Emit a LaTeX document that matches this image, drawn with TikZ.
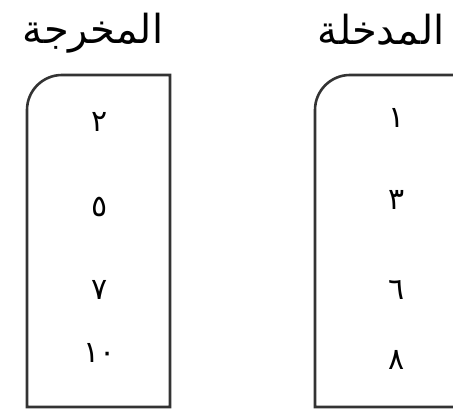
\documentclass[tikz,border=0pt]{standalone}
\usepackage{fontspec}
\newfontfamily\arabicfont[Script=Arabic]{DejaVu Sans}
\TeXXeTstate=1
\begin{document}
\begin{tikzpicture}[x=1pt,y=1pt,
  boxline/.style={draw=black!80, line width=2.6pt},
  title/.style={font=\arabicfont\fontsize{40}{44}\selectfont, inner sep=0pt},
  num/.style={font=\arabicfont\fontsize{30}{32}\selectfont, inner sep=0pt}]
\useasboundingbox (0,0) rectangle (453,413);
\begin{scope}
\clip (0,0) rectangle (453,413);
% left box (output)
\draw[boxline] (27,6) -- (27,303) arc[start angle=180, end angle=90, radius=35] -- (170,338) -- (170,6) -- cycle;
% right box (input)
\draw[boxline] (315,6) -- (315,303) arc[start angle=180, end angle=90, radius=35] -- (470,338) -- (470,6) -- cycle;
\end{scope}
\node[title] (tout) at (93,380) {\beginR المخرجة\endR};
\node[title] (tin) at (381,383) {\beginR المدخلة\endR};
\node[num] (o1) at (100,291) {\beginR ٢\endR};
\node[num] (o2) at (100,206) {\beginR ٥\endR};
\node[num] (o3) at (100,123) {\beginR ٧\endR};
\node[num] (o4) at (100,60) {\beginR ١٠\endR};
\node[num] (i1) at (397,295) {\beginR ١\endR};
\node[num] (i2) at (397,213) {\beginR ٣\endR};
\node[num] (i3) at (397,123) {\beginR ٦\endR};
\node[num] (i4) at (397,53) {\beginR ٨\endR};
\end{tikzpicture}
\end{document}
